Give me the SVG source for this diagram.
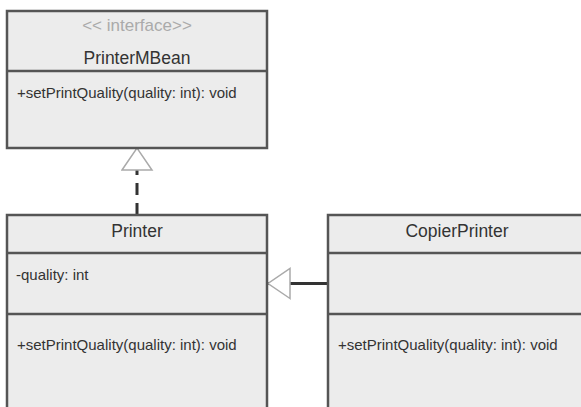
<svg xmlns="http://www.w3.org/2000/svg" width="581" height="407" viewBox="0 0 581 407">
<style>
.box{fill:#ececec;stroke:#555;stroke-width:2.5}
.div{stroke:#555;stroke-width:2.5}
.t{font-family:"Liberation Sans",Arial,sans-serif;fill:#333}
.title{font-size:17.5px;text-anchor:middle}
.stereo{font-size:17px;text-anchor:middle;fill:#aaa}
.mem{font-size:15px}
.conn{fill:none;stroke:#333;stroke-width:3}
.dash{stroke-dasharray:12 8}
</style>
<defs>
<marker id="tri" markerUnits="userSpaceOnUse" markerWidth="26" markerHeight="34" refX="23" refY="16" orient="auto" viewBox="0 0 26 34">
<path d="M1,1 L23,16 L1,31 Z" fill="#fff" stroke="#aaa" stroke-width="1.5" stroke-dasharray="none"/>
</marker>
</defs>
<rect width="581" height="407" fill="#fff"/>
<g id="connectors">
<path class="conn dash" d="M137,215 L137,148" marker-end="url(#tri)"/>
<path class="conn" d="M328,283.5 L268,283.5" marker-end="url(#tri)"/>
</g>
<g id="PrinterMBean">
<rect class="box" x="7" y="11" width="260" height="137"/>
<line class="div" x1="7" y1="71" x2="267" y2="71"/>
<text class="t stereo" x="137" y="31">&lt;&lt; interface&gt;&gt;</text>
<text class="t title" x="137" y="64">PrinterMBean</text>
<text class="t mem" x="17" y="98">+setPrintQuality(quality: int): void</text>
</g>
<g id="Printer">
<rect class="box" x="7" y="215" width="260" height="200"/>
<line class="div" x1="7" y1="253" x2="267" y2="253"/>
<line class="div" x1="7" y1="314" x2="267" y2="314"/>
<text class="t title" x="137" y="237">Printer</text>
<text class="t mem" x="16" y="280">-quality: int</text>
<text class="t mem" x="17" y="350">+setPrintQuality(quality: int): void</text>
</g>
<g id="CopierPrinter">
<rect class="box" x="328" y="215" width="258" height="200"/>
<line class="div" x1="328" y1="253" x2="586" y2="253"/>
<line class="div" x1="328" y1="314" x2="586" y2="314"/>
<text class="t title" x="457" y="237">CopierPrinter</text>
<text class="t mem" x="338" y="350">+setPrintQuality(quality: int): void</text>
</g>
</svg>
